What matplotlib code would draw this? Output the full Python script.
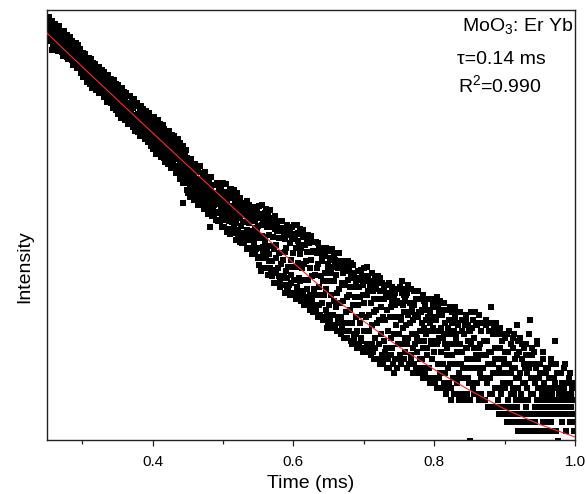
import numpy as np
import matplotlib
matplotlib.use("Agg")
import matplotlib.pyplot as plt
from matplotlib.ticker import MultipleLocator, NullLocator

plt.rcParams['font.family'] = ['Liberation Sans', 'DejaVu Sans']
plt.rcParams['mathtext.fontset'] = 'custom'
plt.rcParams['mathtext.rm'] = 'Liberation Sans'
plt.rcParams['mathtext.it'] = 'Liberation Sans:italic'

# ---- data ----
t_start = 0.25     # ms, first sample
t_step = 0.001     # ms, interval of each of the two interleaved sample sets
counts_a = [
    841, 875, 773, 838, 794, 857, 735, 667, 815, 771,
    737, 804, 762, 814, 686, 760, 718, 777, 680, 731,
    746, 686, 756, 622, 698, 646, 720, 676, 690, 614,
    654, 701, 619, 671, 704, 593, 639, 658, 605, 666,
    578, 628, 599, 653, 550, 620, 587, 560, 618, 585,
    575, 516, 594, 541, 569, 512, 587, 536, 485, 553,
    509, 551, 521, 478, 549, 501, 453, 518, 504, 468,
    521, 456, 480, 519, 437, 484, 458, 446, 487, 417,
    457, 485, 425, 457, 397, 458, 429, 401, 469, 412,
    438, 385, 415, 440, 389, 414, 359, 424, 390, 372,
    396, 354, 416, 368, 395, 333, 372, 394, 344, 374,
    346, 393, 359, 321, 371, 341, 359, 319, 367, 334,
    345, 300, 353, 312, 325, 358, 299, 324, 307, 330,
    294, 328, 304, 332, 276, 310, 290, 319, 262, 295,
    304, 276, 314, 261, 287, 277, 261, 295, 274, 245,
    272, 297, 247, 274, 256, 229, 275, 254, 285, 240,
    258, 226, 270, 236, 255, 241, 209, 257, 222, 240,
    226, 254, 235, 210, 240, 201, 221, 249, 209, 227,
    232, 200, 216, 183, 230, 205, 216, 186, 227, 195,
    206, 176, 211, 123, 184, 192, 164, 198, 173, 183,
    177, 155, 188, 164, 143, 174, 157, 184, 144, 162,
    151, 174, 137, 159, 143, 174, 151, 129, 160, 139,
    155, 133, 146, 163, 126, 139, 152, 132, 143, 122,
    153, 131, 95, 140, 115, 132, 150, 120, 138, 123,
    130, 111, 138, 122, 131, 112, 141, 120, 103, 123,
    114, 132, 104, 121, 139, 108, 123, 114, 130, 101,
    117, 102, 133, 106, 119, 94, 109, 124, 99, 112,
    104, 118, 92, 125, 105, 96, 109, 87, 116, 100,
    108, 89, 100, 115, 92, 107, 82, 99, 109, 91,
    85, 101, 91, 108, 80, 94, 101, 85, 90, 105,
    96, 75, 106, 84, 68, 97, 86, 76, 105, 79,
    85, 67, 95, 75, 103, 70, 87, 60, 77, 95,
    65, 85, 74, 99, 58, 78, 67, 91, 60, 84,
    71, 53, 84, 63, 94, 66, 55, 87, 72, 58,
    75, 54, 91, 61, 50, 79, 66, 56, 83, 61,
    71, 53, 88, 61, 75, 49, 64, 81, 54, 70,
    52, 75, 60, 85, 47, 63, 53, 78, 65, 48,
    72, 53, 81, 45, 60, 66, 42, 55, 73, 48,
    56, 73, 45, 60, 40, 63, 49, 74, 45, 55,
    65, 41, 52, 69, 45, 57, 38, 48, 31, 59,
    52, 40, 66, 45, 57, 36, 61, 42, 52, 66,
    39, 56, 46, 35, 60, 48, 41, 62, 35, 51,
    57, 42, 33, 50, 61, 37, 44, 53, 33, 45,
    38, 49, 64, 33, 54, 40, 29, 49, 44, 35,
    53, 30, 40, 49, 33, 44, 28, 53, 36, 45,
    41, 30, 52, 35, 45, 26, 47, 36, 30, 52,
    41, 32, 26, 47, 37, 43, 28, 38, 50, 33,
    43, 26, 34, 47, 29, 39, 23, 35, 43, 27,
    34, 44, 25, 38, 30, 23, 45, 35, 28, 39,
    25, 35, 45, 29, 40, 22, 32, 41, 26, 35,
    29, 41, 23, 34, 46, 26, 31, 37, 24, 42,
    32, 26, 46, 28, 21, 37, 33, 23, 39, 29,
    34, 21, 40, 26, 29, 43, 24, 35, 27, 20,
    30, 37, 22, 33, 25, 42, 27, 20, 34, 29,
    23, 38, 30, 20, 33, 26, 35, 22, 27, 40,
    24, 30, 18, 35, 26, 21, 39, 28, 19, 31,
    24, 36, 21, 16, 29, 26, 19, 38, 23, 31,
    26, 17, 29, 21, 14, 33, 23, 18, 26, 35,
    21, 29, 17, 24, 33, 19, 15, 26, 21, 34,
    24, 18, 29, 20, 15, 34, 22, 25, 18, 31,
    20, 9, 26, 17, 31, 22, 15, 28, 20, 23,
    33, 17, 22, 14, 25, 19, 30, 15, 23, 18,
    20, 27, 14, 23, 32, 17, 21, 13, 24, 18,
    21, 39, 15, 19, 29, 13, 22, 16, 25, 19,
    14, 30, 20, 16, 25, 12, 19, 27, 17, 22,
    16, 24, 12, 19, 29, 14, 21, 11, 17, 26,
    13, 20, 28, 15, 11, 22, 18, 32, 13, 16,
    24, 12, 19, 10, 15, 26, 14, 21, 11, 17,
    13, 23, 16, 10, 20, 12, 34, 18, 11, 25,
    15, 11, 21, 13, 10, 18, 27, 12, 16, 10,
    12, 19, 13, 14, 22, 11, 16, 13, 10, 20,
    14, 15, 12, 18, 10, 13, 21, 15, 14, 12,
    16, 12, 27, 10, 13, 19, 9, 15, 12, 14,
    14, 13, 17, 12, 15, 20, 13, 10, 15, 12,
    12, 18, 13, 14, 11, 13, 16, 16, 12, 10,
    11,
]
counts_b = [
    945, 739, 955, 877, 739, 896, 919, 761, 695, 854,
    796, 886, 689, 851, 816, 660, 867, 734, 806, 675,
    822, 652, 770, 818, 624, 733, 773, 630, 781, 698,
    603, 739, 765, 608, 710, 735, 565, 682, 714, 570,
    715, 645, 546, 682, 706, 551, 644, 674, 517, 641,
    492, 642, 572, 492, 639, 597, 466, 604, 495, 610,
    586, 459, 602, 543, 439, 575, 546, 455, 572, 429,
    554, 437, 532, 412, 553, 493, 412, 532, 428, 511,
    395, 520, 491, 396, 501, 377, 506, 464, 390, 478,
    483, 369, 460, 351, 477, 434, 363, 456, 343, 433,
    330, 450, 416, 335, 429, 315, 438, 387, 329, 418,
    403, 308, 415, 321, 295, 399, 373, 298, 401, 311,
    388, 284, 366, 387, 287, 272, 366, 287, 369, 271,
    272, 350, 258, 359, 324, 259, 346, 270, 329, 249,
    339, 257, 325, 242, 332, 244, 308, 232, 314, 288,
    224, 318, 231, 300, 212, 303, 230, 307, 217, 283,
    295, 204, 279, 211, 292, 203, 278, 194, 262, 207,
    199, 270, 189, 273, 202, 256, 181, 262, 192, 244,
    258, 181, 246, 172, 234, 180, 249, 171, 238, 161,
    166, 226, 154, 232, 165, 211, 153, 220, 143, 202,
    138, 200, 146, 131, 201, 154, 135, 181, 128, 157,
    190, 129, 144, 179, 121, 155, 129, 185, 132, 120,
    124, 171, 116, 139, 174, 117, 129, 159, 109, 146,
    164, 110, 127, 165, 107, 116, 151, 109, 131, 102,
    111, 153, 101, 130, 144, 101, 117, 149, 95, 109,
    153, 95, 134, 102, 152, 90, 139, 107, 93, 142,
    88, 144, 100, 135, 89, 143, 90, 125, 82, 132,
    137, 86, 125, 80, 130, 89, 114, 79, 123, 84,
    79, 122, 83, 126, 74, 112, 85, 120, 75, 112,
    116, 70, 106, 75, 118, 70, 108, 74, 113, 67,
    62, 119, 67, 109, 58, 121, 72, 100, 60, 110,
    115, 60, 99, 56, 107, 65, 114, 59, 99, 55,
    57, 105, 51, 93, 107, 59, 96, 51, 101, 55,
    101, 49, 91, 54, 101, 50, 92, 46, 83, 94,
    47, 97, 49, 87, 45, 91, 51, 95, 46, 86,
    97, 45, 87, 43, 97, 47, 89, 44, 77, 93,
    42, 88, 44, 92, 40, 78, 44, 87, 41, 79,
    87, 40, 79, 38, 86, 42, 80, 37, 72, 39,
    37, 80, 38, 71, 35, 79, 40, 73, 36, 74,
    69, 34, 75, 35, 70, 34, 75, 36, 63, 32,
    33, 73, 34, 67, 31, 74, 36, 68, 32, 62,
    71, 30, 65, 33, 71, 30, 61, 29, 65, 32,
    30, 63, 28, 65, 30, 58, 28, 65, 30, 59,
    62, 27, 56, 26, 62, 28, 57, 26, 52, 29,
    25, 58, 26, 54, 25, 59, 27, 55, 24, 50,
    60, 25, 54, 24, 61, 25, 55, 24, 50, 25,
    23, 57, 24, 52, 22, 54, 25, 48, 22, 55,
    51, 22, 54, 21, 47, 23, 51, 21, 48, 24,
    22, 50, 20, 46, 22, 51, 20, 46, 23, 42,
    49, 21, 45, 19, 46, 22, 42, 20, 48, 22,
    22, 49, 35, 21, 52, 40, 22, 45, 28, 48,
    45, 20, 50, 36, 21, 41, 48, 22, 38, 25,
    19, 47, 36, 20, 43, 28, 19, 47, 37, 22,
    43, 19, 38, 45, 18, 31, 40, 19, 43, 25,
    18, 35, 43, 17, 37, 27, 43, 18, 31, 39,
    42, 17, 34, 44, 16, 27, 37, 18, 42, 30,
    16, 38, 28, 17, 41, 33, 15, 25, 38, 20,
    34, 16, 39, 29, 16, 37, 21, 15, 30, 39,
    15, 28, 37, 18, 32, 14, 37, 24, 15, 30,
    34, 20, 14, 32, 25, 36, 15, 27, 32, 17,
    30, 14, 37, 22, 16, 34, 25, 15, 37, 20,
    15, 32, 23, 36, 14, 26, 18, 33, 20, 14,
    33, 23, 14, 34, 18, 27, 13, 30, 21, 15,
    24, 33, 15, 21, 31, 13, 25, 33, 16, 13,
    29, 19, 12, 31, 22, 15, 27, 13, 21, 29,
    28, 13, 21, 11, 24, 17, 30, 12, 19, 15,
    11, 25, 16, 29, 12, 20, 14, 23, 10, 27,
    18, 11, 28, 14, 22, 10, 17, 25, 12, 20,
    26, 12, 19, 14, 29, 11, 21, 15, 10, 23,
    12, 24, 17, 11, 20, 14, 26, 10, 18, 13,
    21, 13, 15, 12, 24, 14, 17, 13, 19, 11,
    14, 20, 12, 16, 13, 22, 11, 15, 13, 18,
    10, 17, 12, 21, 14, 14, 19, 13, 16, 12,
    19, 11, 13, 15, 16, 12, 21, 12, 14, 17,
    13, 13, 19, 11, 15, 12, 17, 14, 14, 11,
]

fit_t = [0.25, 0.30, 0.35, 0.40, 0.45, 0.50, 0.55, 0.60,
         0.65, 0.70, 0.75, 0.80, 0.85, 0.90, 0.95, 1.00]
fit_I = [801, 553, 384, 267, 186, 130, 91, 63.8,
         45.4, 33.5, 25.3, 19.7, 15.7, 12.75, 10.75, 9.37]

x_ticks = [0.4, 0.6, 0.8, 1.0]
x_tick_labels = ["0.4", "0.6", "0.8", "1.0"]

t_a = t_start + t_step * np.arange(len(counts_a))
t_b = t_start + t_step / 2 + t_step * np.arange(len(counts_b))
t_all = np.concatenate([t_a, t_b])
I_all = np.concatenate([counts_a, counts_b])

# ---- figure ----
fig = plt.figure(figsize=(5.86, 4.94), dpi=100)
ax = fig.add_axes([0.0802, 0.1093, 0.9010, 0.8704])

ax.plot(t_all, I_all, linestyle='none', marker='s', markersize=3.9,
        markeredgewidth=0, color='black', zorder=2)
ax.plot(fit_t, fit_I, color='#ff2a2a', linewidth=0.8, zorder=3)

ax.set_yscale('log')
ax.set_xlim(0.25, 1.0)
ax.set_ylim(9.06, 1033)

ax.yaxis.set_major_locator(NullLocator())
ax.yaxis.set_minor_locator(NullLocator())
ax.set_xticks(x_ticks)
ax.set_xticklabels(x_tick_labels)
ax.xaxis.set_minor_locator(MultipleLocator(0.1))
ax.tick_params(axis='x', which='major', direction='out', length=4.5, width=0.9,
               labelsize=11, pad=6, color='#222222')
ax.tick_params(axis='x', which='minor', direction='out', length=3.0, width=0.9,
               color='#222222')
ax.tick_params(top=False, right=False, left=False)

for sp in ax.spines.values():
    sp.set_linewidth(1.0)
    sp.set_color('#222222')

ax.set_xlabel("Time (ms)", fontsize=14, va='baseline')
ax.xaxis.set_label_coords(0.5, -0.1116)
ax.set_ylabel("Intensity", fontsize=14, va='baseline')
ax.yaxis.set_label_coords(-0.034, 0.403)

ax.text(0.996, 0.952, "MoO$_3$: Er Yb", transform=ax.transAxes,
        ha='right', va='baseline', fontsize=14)
ax.text(0.776, 0.874, "τ=0.14 ms", transform=ax.transAxes,
        ha='left', va='baseline', fontsize=14)
ax.text(0.778, 0.808, "R$^2$=0.990", transform=ax.transAxes,
        ha='left', va='baseline', fontsize=14)

fig.savefig("out.png", dpi=100)
